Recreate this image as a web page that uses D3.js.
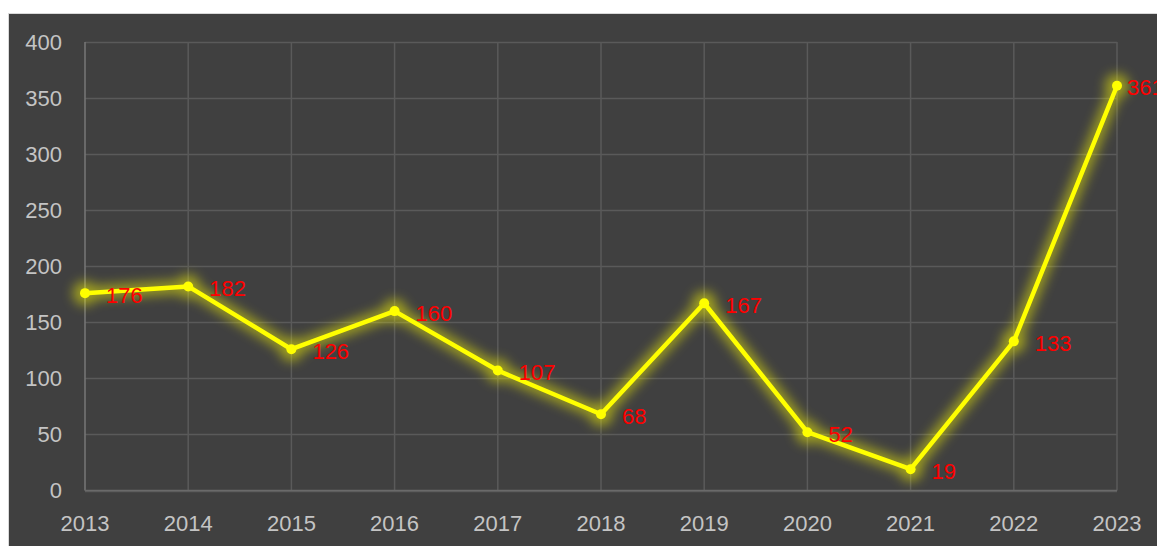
<!DOCTYPE html>
<html><head><meta charset="utf-8">
<script src="https://cdn.jsdelivr.net/npm/d3@7"></script>
<style>html,body{margin:0;padding:0;background:#fff;overflow:hidden}</style>
</head><body><svg id="c" width="1157" height="546"></svg>
<script>
const years = ["2013","2014","2015","2016","2017","2018","2019","2020","2021","2022","2023"];
const values = [176,182,126,160,107,68,167,52,19,133,361];
const yTicks = [0,50,100,150,200,250,300,350,400];

const svg = d3.select("#c");
const font = "'Liberation Sans', Arial, sans-serif";
svg.append("rect").attr("x",8.5).attr("y",13.5).attr("width",1160).attr("height",540)
  .attr("fill","#404040").attr("stroke","#d9d9d9").attr("stroke-width",1);

const x = d3.scalePoint().domain(years).range([85,1117]);
const y = d3.scaleLinear().domain([0,400]).range([490.5,42]);

const defs = svg.append("defs");
const f = defs.append("filter").attr("id","glow").attr("x","-20%").attr("y","-20%").attr("width","140%").attr("height","140%");
f.append("feGaussianBlur").attr("stdDeviation",6);

// grid
svg.append("g").selectAll("line").data(yTicks).join("line")
  .attr("x1",85).attr("x2",1117).attr("y1",d=>Math.round(y(d))+0.5).attr("y2",d=>Math.round(y(d))+0.5)
  .attr("stroke","#5a5a5a").attr("stroke-width",1.5);
svg.append("g").selectAll("line").data(years.slice(1)).join("line")
  .attr("x1",d=>x(d)).attr("x2",d=>x(d)).attr("y1",y(400)).attr("y2",y(0))
  .attr("stroke","#5a5a5a").attr("stroke-width",1.5);
svg.append("line").attr("x1",85).attr("x2",85).attr("y1",y(400)).attr("y2",y(0))
  .attr("stroke","#777").attr("stroke-width",1.5);
svg.append("line").attr("x1",85).attr("x2",1117).attr("y1",y(0)).attr("y2",y(0))
  .attr("stroke","#6a6a6a").attr("stroke-width",1.5);

// axis labels
svg.append("g").selectAll("text").data(yTicks).join("text")
  .attr("x",62).attr("y",d=>y(d)).attr("dy","0.35em").attr("text-anchor","end")
  .attr("font-family",font).attr("font-size",22).attr("fill","#c4c4c4").text(d=>d);
svg.append("g").selectAll("text").data(years).join("text")
  .attr("x",d=>x(d)).attr("y",523).attr("dy","0.35em").attr("text-anchor","middle")
  .attr("font-family",font).attr("font-size",22).attr("fill","#c4c4c4").text(d=>d);

const data = years.map((yr,i)=>({yr, v:values[i]}));
const line = d3.line().x(d=>x(d.yr)).y(d=>y(d.v));

// glow
const gg = svg.append("g").attr("filter","url(#glow)").attr("opacity",0.5);
gg.append("path").datum(data).attr("d",line).attr("fill","none").attr("stroke","#ffff00").attr("stroke-width",13).attr("stroke-linejoin","round");
gg.selectAll("circle").data(data).join("circle").attr("cx",d=>x(d.yr)).attr("cy",d=>y(d.v)).attr("r",12).attr("fill","#ffff00");

svg.append("path").datum(data).attr("d",line).attr("fill","none").attr("stroke","#ffff00").attr("stroke-width",4.5).attr("stroke-linejoin","round");
svg.append("g").selectAll("circle").data(data).join("circle")
  .attr("cx",d=>x(d.yr)).attr("cy",d=>y(d.v)).attr("r",5).attr("fill","#ffff00");

svg.append("g").selectAll("text").data(data).join("text")
  .attr("x",d=>Math.min(x(d.yr)+21, 1127)).attr("y",d=>y(d.v)+2).attr("dy","0.35em")
  .attr("font-family",font).attr("font-size",22).attr("fill","#ff0000").text(d=>d.v);
</script></body></html>
